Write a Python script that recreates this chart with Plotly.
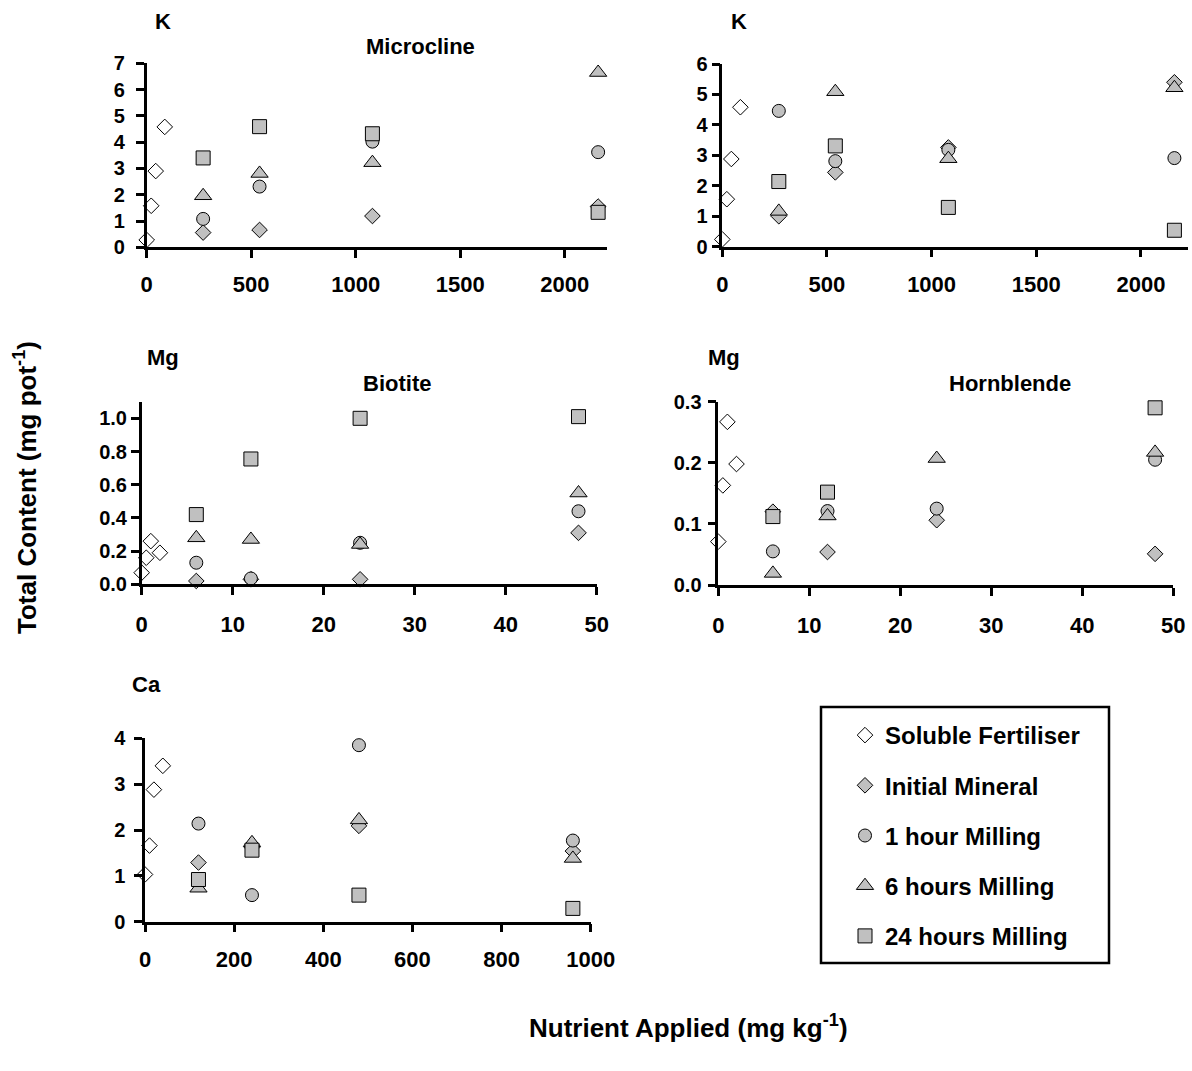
import plotly.graph_objects as go

W, H = 1192, 1071
FONT = "Liberation Sans, Arial, Helvetica, sans-serif"

# ---- nutrient applied (mg kg-1) ----
k_mineral_rate = [270, 540, 1080, 2160]
k_soluble_rate = [0, 21.6, 43.2, 86.4]
mg_mineral_rate = [6, 12, 24, 48]
mg_soluble_rate = [0, 0.5, 1, 2]
ca_mineral_rate = [120, 240, 480, 960]
ca_soluble_rate = [0, 10, 20, 40]

series_names = ["Soluble Fertiliser", "Initial Mineral", "1 hour Milling",
                "6 hours Milling", "24 hours Milling"]

# ---- total content (mg pot-1) ----
# K - Microcline
micro_soluble = [0.28, 1.58, 2.90, 4.58]
micro_initial = [0.56, 0.66, 1.19, 1.55]
micro_1h = [1.08, 2.31, 4.02, 3.62]
micro_6h = [1.96, 2.81, 3.22, 6.65]
micro_24h = [3.40, 4.59, 4.32, 1.33]

# K - second feldspar
kfeld_soluble = [0.24, 1.56, 2.88, 4.58]
kfeld_initial = [1.00, 2.44, 3.26, 5.40]
kfeld_1h = [4.46, 2.81, 3.18, 2.91]
kfeld_6h = [1.16, 5.09, 2.89, 5.22]
kfeld_24h = [2.14, 3.31, 1.29, 0.54]

# Mg - Biotite
bio_soluble = [0.07, 0.16, 0.26, 0.19]
bio_initial = [0.02, 0.03, 0.03, 0.31]
bio_1h = [0.13, 0.035, 0.25, 0.44]
bio_6h = [0.28, 0.27, 0.24, 0.55]
bio_24h = [0.42, 0.755, 1.00, 1.01]

# Mg - Hornblende
horn_soluble = [0.071, 0.163, 0.267, 0.198]
horn_initial = [0.12, 0.054, 0.106, 0.051]
horn_1h = [0.055, 0.121, 0.125, 0.205]
horn_6h = [0.019, 0.113, 0.207, 0.217]
horn_24h = [0.112, 0.152, None, 0.29]

# Ca - Hornblende
ca_soluble = [1.03, 1.66, 2.88, 3.40]
ca_initial = [1.29, 1.62, 2.09, 1.54]
ca_1h = [2.14, 0.58, 3.85, 1.77]
ca_6h = [0.73, 1.72, 2.22, 1.38]
ca_24h = [0.92, 1.56, 0.58, 0.29]

GREY = "#C0C0C0"
marker_styles = [
    dict(symbol="diamond", size=12, color="white", line=dict(color="black", width=1)),
    dict(symbol="diamond", size=12, color=GREY, line=dict(color="black", width=1)),
    dict(symbol="circle", size=13, color=GREY, line=dict(color="black", width=1)),
    dict(symbol="triangle-up", size=15, color=GREY, line=dict(color="black", width=1)),
    dict(symbol="square", size=14, color=GREY, line=dict(color="black", width=1)),
]

# panel layout in pixels: (left, right, bottom, top) of the axis lines
panels = [
    dict(x_sol=k_soluble_rate, x_min=k_mineral_rate,
         ys=[micro_soluble, micro_initial, micro_1h, micro_6h, micro_24h],
         xrange=[0, 2200], yrange=[0, 7], dtick_x=500, dtick_y=1, yfmt="d",
         px=(146.7, 606.5, 247.3, 63.3), ystand=7, xstand=8),
    dict(x_sol=k_soluble_rate, x_min=k_mineral_rate,
         ys=[kfeld_soluble, kfeld_initial, kfeld_1h, kfeld_6h, kfeld_24h],
         xrange=[0, 2225], yrange=[0, 6], dtick_x=500, dtick_y=1, yfmt="d",
         px=(722.3, 1188, 246.7, 64), ystand=0, xstand=8),
    dict(x_sol=mg_soluble_rate, x_min=mg_mineral_rate,
         ys=[bio_soluble, bio_initial, bio_1h, bio_6h, bio_24h],
         xrange=[0, 50], yrange=[0, 1.1], dtick_x=10, dtick_y=0.2, yfmt=".1f",
         px=(141.7, 596.7, 584.3, 401.7), ystand=0, xstand=11),
    dict(x_sol=mg_soluble_rate, x_min=mg_mineral_rate,
         ys=[horn_soluble, horn_initial, horn_1h, horn_6h, horn_24h],
         xrange=[0, 50], yrange=[0, 0.3], dtick_x=10, dtick_y=0.1, yfmt=".1f",
         px=(718.3, 1173.3, 585, 401.7), ystand=2, xstand=11),
    dict(x_sol=ca_soluble_rate, x_min=ca_mineral_rate,
         ys=[ca_soluble, ca_initial, ca_1h, ca_6h, ca_24h],
         xrange=[0, 1000], yrange=[0, 4], dtick_x=200, dtick_y=1, yfmt="d",
         px=(145, 590.7, 921.7, 738.3), ystand=5, xstand=8),
]

fig = go.Figure()
layout = {}

for i, p in enumerate(panels, start=1):
    xa = "x" if i == 1 else f"x{i}"
    ya = "y" if i == 1 else f"y{i}"
    for k, (name, ydata) in enumerate(zip(series_names, p["ys"])):
        xdata = p["x_sol"] if k == 0 else p["x_min"]
        fig.add_trace(go.Scatter(
            x=xdata, y=ydata, mode="markers", name=name,
            marker=marker_styles[k], xaxis=xa, yaxis=ya,
            legendgroup=name, showlegend=(i == 1), cliponaxis=False,
        ))
    l, r, b, t = p["px"]
    axis_common = dict(showline=True, linecolor="black", linewidth=2.5,
                       ticks="outside", ticklen=8, tickwidth=2.5, tickcolor="black",
                       showgrid=False, zeroline=False, fixedrange=True,
                       automargin=False)
    layout[f"xaxis{'' if i == 1 else i}"] = dict(
        domain=[l / W, r / W], anchor=ya, range=p["xrange"], dtick=p["dtick_x"],
        tick0=0, tickfont=dict(family=FONT, size=22, color="black", weight="bold"),
        ticklabelstandoff=p["xstand"], **axis_common)
    layout[f"yaxis{'' if i == 1 else i}"] = dict(
        domain=[1 - b / H, 1 - t / H], anchor=xa, range=p["yrange"], dtick=p["dtick_y"],
        tick0=0, tickformat=p["yfmt"],
        tickfont=dict(family=FONT, size=20, color="black", weight="bold"),
        ticklabelstandoff=p["ystand"], **axis_common)

title_font = dict(family=FONT, size=22, color="black", weight="bold")
labels = [
    ("K", 163, 21), ("Microcline", 420, 47), ("K", 739, 21),
    ("Mg", 163, 358), ("Biotite", 397, 383), ("Mg", 724, 358),
    ("Hornblende", 1010, 383), ("Ca", 146, 684),
]
annotations = [
    dict(text=txt, x=x / W, y=1 - y / H, xref="paper", yref="paper",
         showarrow=False, xanchor="center", yanchor="middle", font=title_font)
    for txt, x, y in labels
]
axis_title_font = dict(family=FONT, size=26, color="black", weight="bold")
annotations.append(dict(text="Total Content (mg pot<sup>-1</sup>)", x=26 / W, y=1 - 488 / H,
                        xref="paper", yref="paper", showarrow=False, textangle=-90,
                        xanchor="center", yanchor="middle", font=axis_title_font))
annotations.append(dict(text="Nutrient Applied (mg kg<sup>-1</sup>)", x=688 / W, y=1 - 1026 / H,
                        xref="paper", yref="paper", showarrow=False,
                        xanchor="center", yanchor="middle", font=axis_title_font))

fig.update_layout(
    template="none",
    width=W, height=H,
    margin=dict(l=0, r=0, t=0, b=0, pad=0, autoexpand=False),
    paper_bgcolor="white", plot_bgcolor="white",
    annotations=annotations,
    shapes=[dict(type="rect", xref="paper", yref="paper",
                 x0=821 / W, x1=1109 / W, y0=1 - 963 / H, y1=1 - 707 / H,
                 line=dict(color="black", width=2.5), fillcolor="rgba(0,0,0,0)")],
    legend=dict(x=845 / W, y=1 - 713 / H, xanchor="left", yanchor="top",
                bgcolor="rgba(0,0,0,0)", borderwidth=0, tracegroupgap=16,
                font=dict(family=FONT, size=24, color="black", weight="bold")),
    **layout,
)

fig.write_html("out.html")
